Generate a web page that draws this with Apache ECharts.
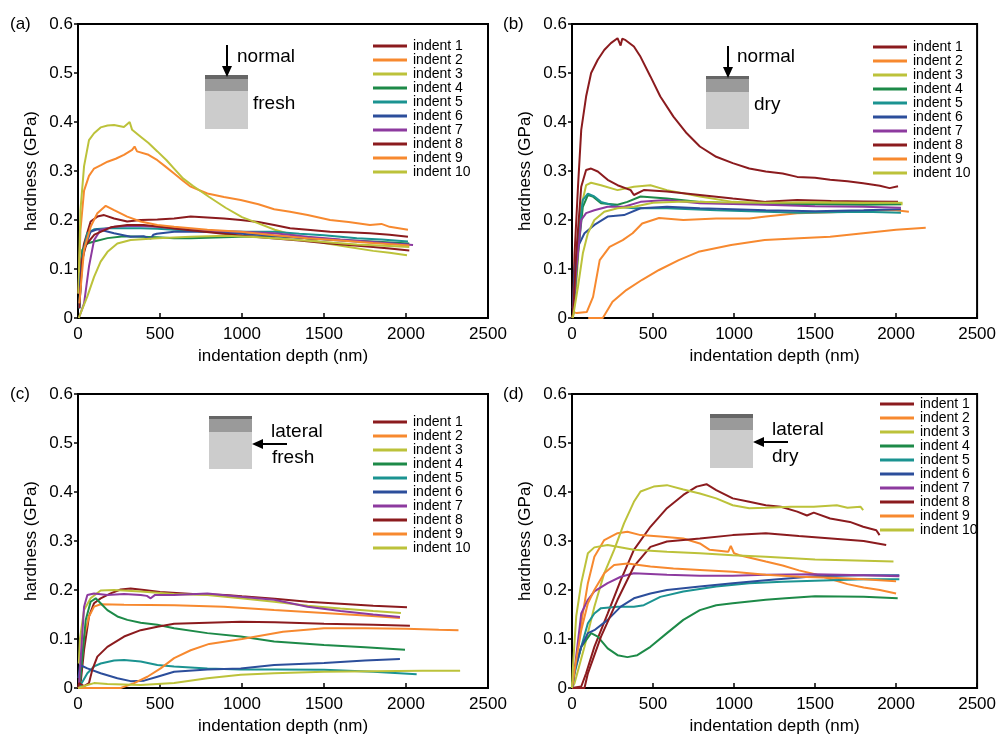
<!DOCTYPE html>
<html>
<head>
<meta charset="utf-8">
<script src="https://cdn.jsdelivr.net/npm/echarts@6/dist/echarts.min.js"></script>
<style>html,body{margin:0;padding:0;background:#fff;}#chart{width:999px;height:736px;}</style>
</head>
<body>
<div id="chart"></div>
<script>
// ---------- data ----------
const indentNames = ['indent 1','indent 2','indent 3','indent 4','indent 5','indent 6','indent 7','indent 8','indent 9','indent 10'];
const indentColors = ['#8B1B1E','#F7892F','#BCC23A','#1D8A48','#1B9391','#2C4E9B','#8D3A9F','#8B1B1E','#F7892F','#BCC23A'];
const panelLabels = ['(a)','(b)','(c)','(d)'];
const xTickMax = 2500, xTickStep = 500;
const yTickMax = 0.6, yTickStep = 0.1;

// panel (a): normal, fresh  [depth nm, hardness GPa]
const a1 = [[5,0.05],[20,0.12],[37,0.152],[77,0.197],[118,0.207],[159,0.21],[220,0.203],[300,0.197],[382,0.2],[484,0.201],[586,0.203],[687,0.207],[789,0.205],[890,0.203],[992,0.2],[1100,0.196],[1196,0.19],[1293,0.183],[1400,0.18],[1537,0.176],[1650,0.175],[1780,0.173],[1900,0.17],[2012,0.166]];
const a2 = [[3,0.05],[15,0.18],[37,0.26],[67,0.29],[98,0.305],[140,0.312],[180,0.319],[230,0.325],[280,0.333],[330,0.343],[345,0.35],[360,0.34],[430,0.333],[484,0.322],[530,0.31],[586,0.295],[640,0.28],[687,0.268],[789,0.254],[890,0.247],[992,0.241],[1100,0.232],[1196,0.222],[1293,0.217],[1400,0.21],[1537,0.2],[1650,0.196],[1780,0.19],[1850,0.192],[1900,0.186],[2012,0.18]];
const a3 = [[3,0.05],[15,0.22],[37,0.31],[67,0.363],[98,0.377],[138,0.389],[180,0.393],[220,0.394],[280,0.39],[315,0.4],[330,0.384],[382,0.37],[430,0.357],[484,0.34],[540,0.322],[586,0.305],[640,0.285],[700,0.27],[800,0.247],[900,0.225],[1000,0.206],[1100,0.193],[1200,0.18],[1350,0.166],[1500,0.153],[1650,0.145],[1800,0.137],[1900,0.133],[2006,0.128]];
const a4 = [[8,0.02],[26,0.139],[57,0.152],[98,0.156],[180,0.163],[280,0.167],[382,0.166],[484,0.165],[586,0.163],[687,0.163],[789,0.164],[890,0.165],[992,0.166],[1196,0.167],[1400,0.163],[1600,0.159],[1800,0.156],[2020,0.152]];
const a5 = [[8,0.02],[26,0.125],[57,0.173],[98,0.181],[180,0.183],[280,0.183],[382,0.183],[484,0.182],[586,0.18],[789,0.176],[992,0.176],[1196,0.176],[1350,0.172],[1500,0.169],[1700,0.163],[1850,0.16],[2012,0.156]];
const a6 = [[8,0.02],[16,0.09],[37,0.139],[77,0.176],[118,0.181],[160,0.178],[220,0.173],[321,0.166],[400,0.167],[443,0.162],[460,0.17],[480,0.172],[586,0.176],[789,0.176],[992,0.172],[1196,0.168],[1400,0.163],[1600,0.158],[1800,0.154],[2020,0.15]];
const a7 = [[5,0.0],[16,0.01],[37,0.03],[67,0.105],[98,0.159],[138,0.18],[220,0.186],[300,0.188],[382,0.188],[484,0.186],[586,0.183],[789,0.178],[992,0.176],[1196,0.173],[1400,0.166],[1600,0.16],[1800,0.155],[1950,0.151],[2043,0.149]];
const a8 = [[8,0.02],[26,0.12],[50,0.15],[100,0.17],[200,0.185],[300,0.19],[400,0.19],[500,0.186],[600,0.182],[800,0.175],[1000,0.168],[1200,0.162],[1350,0.158],[1500,0.153],[1650,0.149],[1800,0.145],[1900,0.142],[2020,0.138]];
const a9 = [[8,0.03],[37,0.139],[77,0.186],[118,0.214],[169,0.229],[220,0.22],[300,0.207],[382,0.197],[484,0.19],[586,0.186],[789,0.18],[992,0.176],[1196,0.169],[1400,0.163],[1600,0.158],[1800,0.153],[2020,0.148]];
const a10 = [[5,0.0],[16,0.01],[57,0.044],[98,0.084],[138,0.115],[180,0.135],[240,0.152],[321,0.159],[484,0.163],[687,0.166],[900,0.168],[1100,0.165],[1300,0.16],[1500,0.155],[1700,0.15],[1900,0.147],[2020,0.145]];

// panel (b): normal, dry
const b1 = [[5,0.02],[16,0.132],[37,0.268],[57,0.384],[87,0.452],[118,0.5],[159,0.527],[199,0.547],[240,0.561],[281,0.571],[300,0.556],[310,0.57],[331,0.567],[382,0.554],[423,0.533],[484,0.493],[545,0.452],[626,0.411],[708,0.377],[789,0.35],[890,0.329],[992,0.316],[1094,0.305],[1196,0.299],[1300,0.295],[1390,0.288],[1500,0.286],[1593,0.282],[1700,0.279],[1797,0.275],[1900,0.27],[1960,0.265],[2012,0.269]];
const b2 = [[0,0.0],[10,0.012],[30,0.01],[91,0.012],[130,0.043],[171,0.118],[232,0.145],[313,0.159],[374,0.173],[433,0.193],[537,0.204],[687,0.2],[890,0.203],[1094,0.203],[1196,0.207],[1390,0.214],[1600,0.216],[1894,0.22],[2000,0.22],[2079,0.217]];
const b3 = [[5,0.0],[26,0.064],[57,0.227],[87,0.271],[118,0.276],[179,0.271],[281,0.261],[382,0.268],[484,0.271],[586,0.261],[789,0.248],[992,0.237],[1196,0.234],[1400,0.234],[1600,0.234],[1800,0.233],[2040,0.232]];
const b4 = [[5,0.0],[37,0.132],[67,0.227],[98,0.251],[128,0.248],[179,0.234],[281,0.231],[342,0.237],[423,0.248],[586,0.244],[789,0.237],[992,0.234],[1200,0.232],[1500,0.232],[1800,0.231],[2030,0.232]];
const b5 = [[5,0.0],[37,0.166],[67,0.241],[98,0.254],[138,0.248],[179,0.237],[281,0.227],[382,0.224],[586,0.224],[890,0.22],[1196,0.217],[1400,0.215],[1600,0.216],[1800,0.217],[2030,0.215]];
const b6 = [[5,0.02],[16,0.098],[37,0.146],[77,0.173],[138,0.19],[220,0.207],[321,0.21],[423,0.224],[586,0.227],[789,0.224],[1196,0.22],[1500,0.218],[1800,0.22],[2030,0.222]];
const b7 = [[5,0.0],[26,0.098],[57,0.2],[87,0.214],[138,0.22],[220,0.227],[321,0.227],[423,0.237],[586,0.241],[789,0.234],[1196,0.231],[1500,0.228],[1800,0.227],[2030,0.225]];
const b8 = [[5,0.0],[26,0.132],[57,0.268],[87,0.302],[118,0.305],[159,0.299],[220,0.282],[281,0.271],[362,0.261],[382,0.251],[443,0.261],[586,0.258],[789,0.251],[992,0.244],[1196,0.237],[1390,0.241],[1600,0.239],[1800,0.238],[2012,0.237]];
const b9 = [[100,0.0],[190,0.0],[250,0.033],[335,0.057],[433,0.078],[537,0.098],[659,0.118],[780,0.135],[982,0.149],[1189,0.159],[1400,0.163],[1593,0.166],[1797,0.173],[2000,0.18],[2183,0.184]];
const b10 = [[5,0.0],[37,0.064],[67,0.132],[98,0.173],[138,0.2],[199,0.217],[281,0.224],[382,0.227],[500,0.235],[700,0.238],[900,0.236],[1200,0.235],[1500,0.236],[1800,0.235],[2040,0.235]];

// panel (c): lateral, fresh
const c1 = [[5,0.0],[16,0.01],[37,0.078],[67,0.146],[98,0.173],[138,0.183],[199,0.193],[260,0.201],[321,0.203],[403,0.2],[500,0.196],[700,0.192],[900,0.19],[1000,0.187],[1200,0.182],[1400,0.176],[1600,0.172],[1800,0.168],[2006,0.165]];
const c2 = [[5,0.0],[16,0.037],[37,0.105],[67,0.146],[98,0.166],[138,0.171],[281,0.17],[586,0.169],[890,0.166],[1196,0.159],[1500,0.153],[1750,0.148],[1963,0.143]];
const c3 = [[5,0.05],[12,0.1],[37,0.159],[77,0.183],[138,0.199],[220,0.2],[382,0.197],[586,0.192],[789,0.19],[992,0.183],[1196,0.176],[1400,0.168],[1600,0.162],[1800,0.157],[1969,0.153]];
const c4 = [[5,0.0],[16,0.023],[47,0.139],[77,0.176],[108,0.183],[138,0.173],[179,0.159],[240,0.146],[301,0.139],[382,0.133],[484,0.129],[586,0.122],[789,0.112],[992,0.105],[1196,0.095],[1500,0.088],[1750,0.083],[1994,0.078]];
const c5 = [[5,0.0],[16,0.006],[57,0.03],[98,0.044],[138,0.05],[220,0.056],[281,0.057],[382,0.054],[484,0.047],[586,0.044],[789,0.04],[992,0.038],[1196,0.038],[1500,0.037],[1800,0.033],[2065,0.028]];
const c6 = [[3,0.02],[12,0.047],[57,0.04],[138,0.03],[240,0.02],[321,0.014],[403,0.015],[484,0.023],[586,0.033],[789,0.038],[992,0.04],[1196,0.047],[1500,0.051],[1750,0.056],[1963,0.059]];
const c7 = [[5,0.0],[12,0.037],[37,0.166],[57,0.19],[98,0.193],[179,0.19],[281,0.192],[382,0.19],[420,0.188],[443,0.183],[470,0.19],[586,0.19],[789,0.193],[992,0.186],[1196,0.18],[1400,0.166],[1600,0.157],[1800,0.15],[1963,0.145]];
const c8 = [[0,0.0],[6,0.01],[37,0.004],[67,0.01],[87,0.037],[118,0.064],[179,0.084],[281,0.105],[382,0.118],[484,0.125],[586,0.131],[789,0.133],[992,0.135],[1200,0.134],[1500,0.131],[1800,0.129],[2024,0.127]];
const c9 = [[0,0.0],[260,0.0],[342,0.01],[423,0.023],[504,0.04],[586,0.061],[687,0.077],[800,0.09],[1000,0.1],[1250,0.115],[1500,0.122],[1750,0.122],[2000,0.121],[2200,0.119],[2320,0.118]];
const c10 = [[0,0.0],[57,0.006],[98,0.01],[179,0.008],[382,0.006],[586,0.01],[789,0.02],[992,0.027],[1196,0.03],[1500,0.033],[1800,0.034],[2100,0.035],[2330,0.035]];

// panel (d): lateral, dry
const d1 = [[0,0.0],[57,0.003],[87,0.03],[138,0.084],[220,0.152],[301,0.22],[382,0.282],[484,0.329],[586,0.367],[687,0.394],[769,0.411],[830,0.416],[890,0.404],[992,0.387],[1094,0.38],[1196,0.373],[1289,0.37],[1390,0.36],[1450,0.352],[1492,0.358],[1593,0.346],[1715,0.339],[1797,0.329],[1878,0.322],[1898,0.312]];
const d2 = [[0,0.0],[16,0.03],[57,0.132],[98,0.214],[138,0.268],[199,0.302],[281,0.316],[342,0.319],[423,0.312],[545,0.309],[687,0.305],[789,0.295],[850,0.282],[964,0.278],[980,0.29],[1000,0.275],[1033,0.271],[1196,0.258],[1300,0.25],[1400,0.24],[1500,0.232],[1600,0.222],[1700,0.212],[1800,0.205],[1900,0.2],[2000,0.193]];
const d3 = [[0,0.0],[16,0.01],[77,0.084],[138,0.166],[199,0.234],[260,0.282],[321,0.336],[382,0.38],[423,0.401],[504,0.411],[586,0.414],[687,0.405],[789,0.397],[890,0.387],[992,0.373],[1094,0.367],[1200,0.368],[1350,0.37],[1492,0.37],[1634,0.373],[1700,0.368],[1780,0.37],[1797,0.363]];
const d4 = [[0,0.0],[16,0.037],[57,0.084],[118,0.112],[159,0.105],[220,0.081],[281,0.067],[342,0.063],[403,0.067],[484,0.084],[586,0.112],[687,0.139],[789,0.159],[890,0.169],[992,0.173],[1196,0.18],[1318,0.183],[1500,0.187],[1800,0.186],[2010,0.183]];
const d5 = [[0,0.0],[16,0.03],[57,0.084],[98,0.132],[138,0.152],[179,0.163],[281,0.166],[382,0.166],[443,0.169],[545,0.186],[687,0.197],[890,0.207],[1094,0.214],[1298,0.217],[1600,0.22],[1800,0.222],[2020,0.222]];
const d6 = [[0,0.0],[16,0.037],[57,0.084],[98,0.112],[138,0.118],[220,0.139],[301,0.166],[382,0.183],[484,0.193],[586,0.2],[789,0.207],[992,0.214],[1196,0.22],[1500,0.228],[1800,0.23],[2020,0.23]];
const d7 = [[0,0.0],[16,0.037],[57,0.152],[98,0.18],[138,0.197],[220,0.214],[301,0.227],[382,0.234],[586,0.231],[789,0.229],[992,0.229],[1196,0.231],[1500,0.232],[1800,0.23],[2020,0.228]];
const d8 = [[0,0.0],[77,0.0],[98,0.03],[179,0.105],[281,0.18],[382,0.248],[484,0.288],[586,0.299],[789,0.305],[992,0.312],[1196,0.316],[1400,0.31],[1600,0.305],[1800,0.3],[1939,0.292]];
const d9 = [[0,0.0],[16,0.037],[57,0.118],[98,0.173],[138,0.2],[199,0.234],[260,0.251],[342,0.254],[484,0.248],[626,0.244],[789,0.241],[992,0.237],[1196,0.231],[1400,0.227],[1600,0.225],[1800,0.222],[2000,0.218]];
const d10 = [[0,0.0],[6,0.044],[26,0.146],[57,0.214],[98,0.275],[138,0.287],[220,0.292],[382,0.282],[586,0.278],[789,0.275],[992,0.271],[1196,0.268],[1500,0.262],[1750,0.26],[1984,0.258]];

const panelData = [
  [a1,a2,a3,a4,a5,a6,a7,a8,a9,a10],
  [b1,b2,b3,b4,b5,b6,b7,b8,b9,b10],
  [c1,c2,c3,c4,c5,c6,c7,c8,c9,c10],
  [d1,d2,d3,d4,d5,d6,d7,d8,d9,d10]
];
const insetTexts = [['normal','fresh'],['normal','dry'],['lateral','fresh'],['lateral','dry']];

// ---------- layout ----------
const FONT = 'Liberation Sans, Arial, Helvetica, sans-serif';
const gridPos = [
  {left:78, top:24}, {left:572, top:24}, {left:78, top:394}, {left:572, top:394}
];
const GW = 410, GH = 294;
const legendPos = [
  {left:373, top:39}, {left:873, top:40}, {left:373, top:415}, {left:880, top:397}
];

const grids = [], xAxes = [], yAxes = [], series = [], legends = [], graphics = [];
gridPos.forEach((g, p) => {
  grids.push({left:g.left, top:g.top, width:GW, height:GH, show:true, borderColor:'#000', borderWidth:2, backgroundColor:'transparent'});
  xAxes.push({
    gridIndex:p, type:'value', min:0, max:xTickMax, interval:xTickStep,
    name:'indentation depth (nm)', nameLocation:'middle', nameGap:30,
    nameTextStyle:{fontFamily:FONT, fontSize:17, color:'#000'},
    axisLine:{show:true, onZero:false, lineStyle:{color:'#000', width:2}},
    axisTick:{show:true, inside:true, length:5, lineStyle:{color:'#000', width:1.5}},
    axisLabel:{fontFamily:FONT, fontSize:17, color:'#000', margin:8, formatter:v => String(v)},
    splitLine:{show:false}
  });
  yAxes.push({
    gridIndex:p, type:'value', min:0, max:yTickMax, interval:yTickStep,
    name:'hardness (GPa)', nameLocation:'middle', nameGap:38, nameRotate:90,
    nameTextStyle:{fontFamily:FONT, fontSize:17, color:'#000'},
    axisLine:{show:true, onZero:false, lineStyle:{color:'#000', width:2}},
    axisTick:{show:true, inside:false, length:4, lineStyle:{color:'#000', width:1.5}},
    axisLabel:{fontFamily:FONT, fontSize:17, color:'#000', margin:5,
      formatter:v => v === 0 ? '0' : v.toFixed(1)},
    splitLine:{show:false}
  });
  panelData[p].forEach((d, i) => {
    series.push({
      type:'line', name:indentNames[i], xAxisIndex:p, yAxisIndex:p,
      data:d, showSymbol:false, symbol:'none', smooth:false,
      lineStyle:{color:indentColors[i], width:2}, itemStyle:{color:indentColors[i]},
      animation:false, z:2+i
    });
  });
  legends.push({
    orient:'vertical', left:legendPos[p].left, top:legendPos[p].top,
    data:indentNames, icon:'rect', itemWidth:34, itemHeight:3, itemGap:0,
    padding:0, selectedMode:false,
    textStyle:{fontFamily:FONT, fontSize:14, color:'#000', lineHeight:13.8, padding:[0,0,0,1]}
  });
  // panel letter
  graphics.push({type:'text', left:(p%2===0?10:503), top:g.top-8,
    style:{text:panelLabels[p], font:'17px ' + FONT, fill:'#000'}});
});

// insets
function addBlock(x, top, bandDark, bandMid, bottom) {
  graphics.push({type:'rect', shape:{x:x, y:top, width:43, height:bottom-top}, style:{fill:'#cccccc'}});
  graphics.push({type:'rect', shape:{x:x, y:top, width:43, height:bandMid-top}, style:{fill:'#9a9a9a'}});
  graphics.push({type:'rect', shape:{x:x, y:top, width:43, height:bandDark-top}, style:{fill:'#666666'}});
}
function addText(str, x, y) {
  graphics.push({type:'text', x:x, y:y, style:{text:str, font:'19px ' + FONT, fill:'#000', verticalAlign:'middle', align:'left'}});
}
// (a)
addBlock(205, 75, 79, 91, 129);
graphics.push({type:'line', shape:{x1:227, y1:45, x2:227, y2:67}, style:{stroke:'#000', lineWidth:2}});
graphics.push({type:'polygon', shape:{points:[[222,66],[232,66],[227,77]]}, style:{fill:'#000'}});
addText(insetTexts[0][0], 237, 57); addText(insetTexts[0][1], 253, 104);
// (b)
addBlock(706, 76, 79, 92, 129);
graphics.push({type:'line', shape:{x1:728, y1:46, x2:728, y2:68}, style:{stroke:'#000', lineWidth:2}});
graphics.push({type:'polygon', shape:{points:[[723,67],[733,67],[728,78]]}, style:{fill:'#000'}});
addText(insetTexts[1][0], 737, 57); addText(insetTexts[1][1], 754, 105);
// (c)
addBlock(209, 416, 419, 432, 469);
graphics.push({type:'line', shape:{x1:287, y1:444, x2:262, y2:444}, style:{stroke:'#000', lineWidth:2}});
graphics.push({type:'polygon', shape:{points:[[263,439],[263,449],[252,444]]}, style:{fill:'#000'}});
addText(insetTexts[2][0], 271, 432); addText(insetTexts[2][1], 272, 458);
// (d)
addBlock(710, 414, 418, 430, 468);
graphics.push({type:'line', shape:{x1:788, y1:442, x2:763, y2:442}, style:{stroke:'#000', lineWidth:2}});
graphics.push({type:'polygon', shape:{points:[[764,437],[764,447],[753,442]]}, style:{fill:'#000'}});
addText(insetTexts[3][0], 772, 430); addText(insetTexts[3][1], 772, 457);

const chart = echarts.init(document.getElementById('chart'), null, {renderer:'canvas'});
chart.setOption({
  backgroundColor:'#fff',
  animation:false,
  textStyle:{fontFamily:FONT},
  grid:grids, xAxis:xAxes, yAxis:yAxes, series:series, legend:legends, graphic:graphics
});
</script>
</body>
</html>
